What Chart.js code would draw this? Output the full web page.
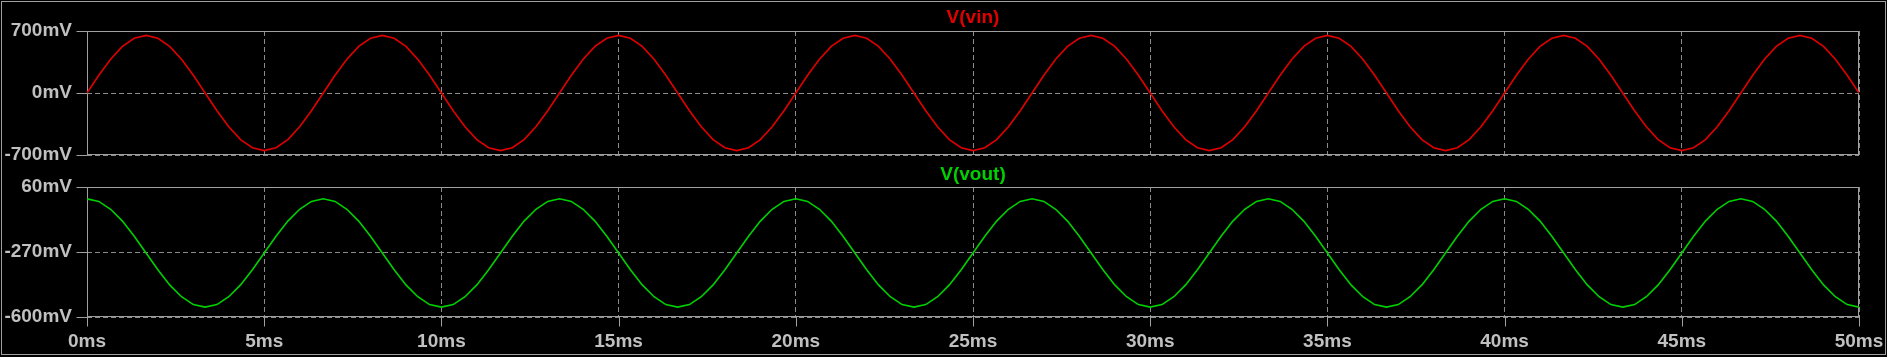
<!DOCTYPE html>
<html><head><meta charset="utf-8">
<script src="https://cdn.jsdelivr.net/npm/chart.js@4.4.1/dist/chart.umd.min.js"></script>
<style>
html,body{margin:0;padding:0;background:#000;width:1887px;height:357px;overflow:hidden;}
#frame{position:absolute;left:1px;top:1px;width:1885px;height:354px;box-sizing:border-box;border:1px solid #a0a0a0;}
#c1{position:absolute;left:0;top:0;width:1887px;height:170px;}
#c2{position:absolute;left:0;top:155px;width:1887px;height:202px;}
</style></head><body>
<div id="frame"></div>
<canvas id="c1" width="1887" height="170"></canvas>
<canvas id="c2" width="1887" height="202"></canvas>
<script>
// time in ms
const timeMs = [
0,0.333,0.667,1,1.333,1.667,2,2.333,2.667,3,3.333,3.667,4,4.333,4.667,
5,5.333,5.667,6,6.333,6.667,7,7.333,7.667,8,8.333,8.667,9,9.333,9.667,
10,10.333,10.667,11,11.333,11.667,12,12.333,12.667,13,13.333,13.667,14,14.333,14.667,
15,15.333,15.667,16,16.333,16.667,17,17.333,17.667,18,18.333,18.667,19,19.333,19.667,
20,20.333,20.667,21,21.333,21.667,22,22.333,22.667,23,23.333,23.667,24,24.333,24.667,
25,25.333,25.667,26,26.333,26.667,27,27.333,27.667,28,28.333,28.667,29,29.333,29.667,
30,30.333,30.667,31,31.333,31.667,32,32.333,32.667,33,33.333,33.667,34,34.333,34.667,
35,35.333,35.667,36,36.333,36.667,37,37.333,37.667,38,38.333,38.667,39,39.333,39.667,
40,40.333,40.667,41,41.333,41.667,42,42.333,42.667,43,43.333,43.667,44,44.333,44.667,
45,45.333,45.667,46,46.333,46.667,47,47.333,47.667,48,48.333,48.667,49,49.333,49.667,
50];
// V(vin) in mV
const vinMv = [
0,201,382,526,618,650,618,526,382,201,0,-201,-382,-526,-618,-650,-618,-526,-382,-201,
0,201,382,526,618,650,618,526,382,201,0,-201,-382,-526,-618,-650,-618,-526,-382,-201,
0,201,382,526,618,650,618,526,382,201,0,-201,-382,-526,-618,-650,-618,-526,-382,-201,
0,201,382,526,618,650,618,526,382,201,0,-201,-382,-526,-618,-650,-618,-526,-382,-201,
0,201,382,526,618,650,618,526,382,201,0,-201,-382,-526,-618,-650,-618,-526,-382,-201,
0,201,382,526,618,650,618,526,382,201,0,-201,-382,-526,-618,-650,-618,-526,-382,-201,
0,201,382,526,618,650,618,526,382,201,0,-201,-382,-526,-618,-650,-618,-526,-382,-201,
0,201,382,526,618,650,618,526,382,201,0];
// V(vout) in mV
const voutMv = [
0,-13,-53,-113,-190,-275,-360,-437,-497,-537,-550,-537,-497,-437,-360,-275,-190,-113,-53,-13,
0,-13,-53,-113,-190,-275,-360,-437,-497,-537,-550,-537,-497,-437,-360,-275,-190,-113,-53,-13,
0,-13,-53,-113,-190,-275,-360,-437,-497,-537,-550,-537,-497,-437,-360,-275,-190,-113,-53,-13,
0,-13,-53,-113,-190,-275,-360,-437,-497,-537,-550,-537,-497,-437,-360,-275,-190,-113,-53,-13,
0,-13,-53,-113,-190,-275,-360,-437,-497,-537,-550,-537,-497,-437,-360,-275,-190,-113,-53,-13,
0,-13,-53,-113,-190,-275,-360,-437,-497,-537,-550,-537,-497,-437,-360,-275,-190,-113,-53,-13,
0,-13,-53,-113,-190,-275,-360,-437,-497,-537,-550,-537,-497,-437,-360,-275,-190,-113,-53,-13,
0,-13,-53,-113,-190,-275,-360,-437,-497,-537,-550];
const timeTicks = [0,5,10,15,20,25,30,35,40,45,50];
const vinTicks = [-700,0,700];
const voutTicks = [-600,-270,60];
const vinTitle = 'V(vin)';
const voutTitle = 'V(vout)';

const FONT = {family:'"Liberation Sans", Arial, sans-serif', weight:'bold', size:19, lineHeight:'22px'};
const LABEL_COLOR = '#c0c0c0';
const FRAME_COLOR = '#a0a0a0';
const GRID_COLOR = '#8a8a8a';

const plotFrame = {
  id:'plotFrame',
  beforeDatasetsDraw(chart, args, opts){
    const {ctx, chartArea:a, scales} = chart;
    ctx.save();
    ctx.strokeStyle = FRAME_COLOR;
    ctx.lineWidth = 1;
    ctx.setLineDash([]);
    const L = Math.round(a.left)+0.5, R = Math.round(a.right)-0.5;
    const T = Math.round(a.top)+0.5, B = Math.round(a.bottom)-0.5;
    ctx.strokeRect(L, T, R-L, B-T);
    ctx.beginPath();
    scales.y.ticks.forEach(t=>{
      const y = Math.round(scales.y.getPixelForValue(t.value))+0.5;
      ctx.moveTo(L-11, y); ctx.lineTo(L, y);
    });
    if (opts.xTicks){
      scales.x.ticks.forEach(t=>{
        const x = Math.round(scales.x.getPixelForValue(t.value))+0.5;
        ctx.moveTo(x, B); ctx.lineTo(x, B+10);
      });
    }
    ctx.stroke();
    ctx.restore();
  }
};

function makeChart(id, values, color, yTicks, title, showX, pad, xHeight, tPad){
  return new Chart(document.getElementById(id), {
    type:'line',
    data:{datasets:[{
      data: timeMs.map((t,i)=>({x:t, y:values[i]})),
      borderColor: color, borderWidth:1.6, pointRadius:0, tension:0, fill:false
    }]},
    options:{
      responsive:false, animation:false, devicePixelRatio:1,
      layout:{padding:{left:0, right:28, top:0, bottom:pad}},
      plugins:{
        legend:{display:false}, tooltip:{enabled:false},
        title:{display:true, text:title, color:color, font:FONT, fullSize:false, padding:tPad},
        plotFrame:{xTicks:showX}
      },
      scales:{
        x:{type:'linear', min:0, max:50,
           afterBuildTicks:s=>{s.ticks = timeTicks.map(v=>({value:v}));},
           afterFit:s=>{s.height = xHeight; s.paddingLeft = 0; s.paddingRight = 0;},
           grid:{color:GRID_COLOR, drawTicks:false, lineWidth:1},
           border:{display:false, dash:[5,3]},
           ticks:{display:showX, color:LABEL_COLOR, font:FONT, padding:14, maxRotation:0,
                  callback:v=>v+'ms'}},
        y:{type:'linear', min:yTicks[0], max:yTicks[yTicks.length-1],
           afterBuildTicks:s=>{s.ticks = yTicks.map(v=>({value:v}));},
           afterFit:s=>{s.width = 87; s.paddingTop = 0; s.paddingBottom = 0;},
           grid:{color:GRID_COLOR, drawTicks:false, lineWidth:1},
           border:{display:false, dash:[5,3]},
           ticks:{color:LABEL_COLOR, font:FONT, padding:15, callback:v=>v+'mV'}}
      }
    },
    plugins:[plotFrame]
  });
}
makeChart('c1', vinMv, '#e00000', vinTicks, vinTitle, false, 15, 0, {top:7, bottom:2});
makeChart('c2', voutMv, '#00d000', voutTicks, voutTitle, true, 0, 40, {top:9, bottom:1});
</script>
</body></html>
